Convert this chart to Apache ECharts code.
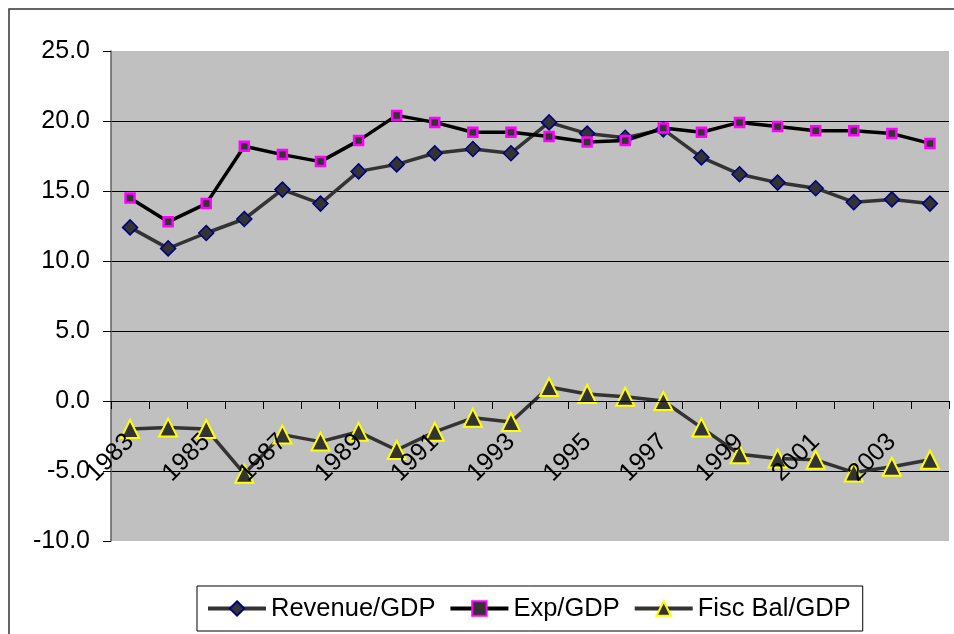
<!DOCTYPE html>
<html>
<head>
<meta charset="utf-8">
<script src="https://cdn.jsdelivr.net/npm/echarts@6/dist/echarts.min.js"></script>
<style>
html, body { margin: 0; padding: 0; background: #fff; }
#chart { width: 954px; height: 634px; }
</style>
</head>
<body>
<div id="chart"></div>
<script>
var years = ['1983', '1984', '1985', '1986', '1987', '1988', '1989', '1990', '1991', '1992', '1993',
             '1994', '1995', '1996', '1997', '1998', '1999', '2000', '2001', '2002', '2003', '2004'];
var revenue = [12.4, 10.9, 12.0, 13.0, 15.1, 14.1, 16.4, 16.9, 17.7, 18.0, 17.7,
               19.9, 19.1, 18.8, 19.4, 17.4, 16.2, 15.6, 15.2, 14.2, 14.4, 14.1];
var expenditure = [14.5, 12.8, 14.1, 18.2, 17.6, 17.1, 18.6, 20.4, 19.9, 19.2, 19.2,
                   18.9, 18.5, 18.6, 19.5, 19.2, 19.9, 19.6, 19.3, 19.3, 19.1, 18.4];
var fiscBal = [-2.0, -1.9, -2.0, -5.2, -2.4, -2.9, -2.2, -3.5, -2.2, -1.2, -1.5,
               1.0, 0.5, 0.3, 0.0, -1.9, -3.8, -4.1, -4.2, -5.1, -4.7, -4.2];
var seriesNames = ['Revenue/GDP', 'Exp/GDP', 'Fisc Bal/GDP'];

var font = "'Liberation Sans', Arial, sans-serif";
var chart = echarts.init(document.getElementById('chart'));

var option = {
    animation: false,
    backgroundColor: '#fff',
    textStyle: { fontFamily: font },
    graphic: [{
        type: 'rect',
        shape: { x: 9, y: 9, width: 960, height: 640 },
        style: { fill: 'none', stroke: '#333', lineWidth: 1.5 },
        silent: true
    }],
    grid: {
        left: 111,
        top: 51,
        right: 5,
        height: 490,
        show: true,
        backgroundColor: '#c0c0c0',
        borderWidth: 0,
        containLabel: false,
        outerBoundsMode: 'none'
    },
    legend: {
        data: seriesNames,
        left: 197,
        top: 586,
        padding: [9, 12, 9, 9],
        itemWidth: 58,
        itemHeight: 18,
        itemGap: 13,
        borderColor: '#000',
        borderWidth: 1,
        lineStyle: { width: 4 },
        textStyle: { fontSize: 25.5, lineHeight: 27, color: '#000', fontFamily: font }
    },
    xAxis: {
        type: 'category',
        data: years,
        boundaryGap: true,
        z: 10,
        // the axis sits on the zero line: 140px up from the bottom of the grid
        offset: -140,
        axisLine: { onZero: false, lineStyle: { color: '#000', width: 1 } },
        axisTick: { show: true, interval: 0, length: 8, lineStyle: { color: '#000' } },
        axisLabel: {
            interval: 1,
            rotate: 45,
            margin: 37,
            fontSize: 25,
            color: '#000',
            fontFamily: font
        },
        splitLine: { show: false }
    },
    yAxis: {
        type: 'value',
        min: -10,
        max: 25,
        interval: 5,
        axisLine: { show: true, lineStyle: { color: '#606060', width: 1.5 } },
        axisTick: { show: true, length: 8, lineStyle: { color: '#000' } },
        axisLabel: {
            margin: 21,
            fontSize: 25,
            color: '#000',
            fontFamily: font,
            formatter: function(v) { return v.toFixed(1); }
        },
        splitLine: {
            show: true,
            showMinLine: false,
            showMaxLine: false,
            lineStyle: { color: '#000', width: 1 }
        }
    },
    series: [{
        name: seriesNames[0],
        type: 'line',
        data: revenue,
        symbol: 'diamond',
        symbolSize: 15,
        lineStyle: { color: '#333333', width: 3.5 },
        itemStyle: { color: '#333333', borderColor: '#000080', borderWidth: 1.5 }
    }, {
        name: seriesNames[1],
        type: 'line',
        data: expenditure,
        symbol: 'rect',
        symbolSize: 9,
        lineStyle: { color: '#000000', width: 3.5 },
        itemStyle: { color: '#333333', borderColor: '#ff00ff', borderWidth: 2.5 }
    }, {
        name: seriesNames[2],
        type: 'line',
        data: fiscBal,
        symbol: 'triangle',
        symbolSize: 18,
        lineStyle: { color: '#333333', width: 3.5 },
        itemStyle: { color: '#333333', borderColor: '#ffff00', borderWidth: 2 }
    }]
};

chart.setOption(option);
</script>
</body>
</html>
